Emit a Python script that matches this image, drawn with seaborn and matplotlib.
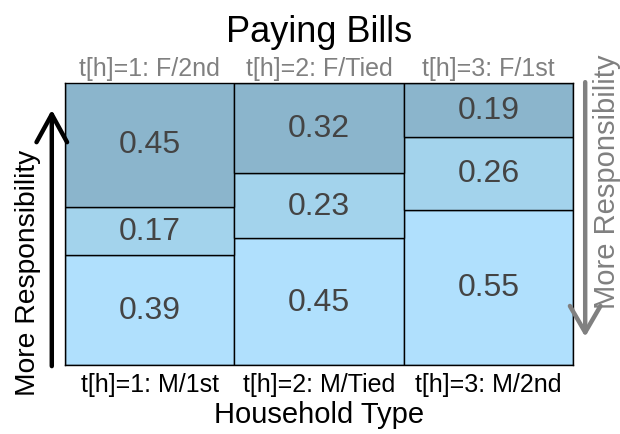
import numpy as np
import pandas as pd
import matplotlib
matplotlib.use('Agg')
import matplotlib.pyplot as plt
import seaborn as sns

# shares per household type, bottom to top
household = ['t[h]=1: M/1st', 't[h]=2: M/Tied', 't[h]=3: M/2nd']
top_labels = ['t[h]=1: F/2nd', 't[h]=2: F/Tied', 't[h]=3: F/1st']
male_more = [0.39, 0.45, 0.55]
shared = [0.17, 0.23, 0.26]
female_more = [0.45, 0.32, 0.19]

colors = ['#b0e0fd', '#a3d3ec', '#8bb5cc']

sns.set_theme(style='white')
plt.rcParams['font.family'] = ['Liberation Sans', 'DejaVu Sans']

df = pd.DataFrame({
    'household': household,
    'male': male_more,
    'shared': shared,
    'female': female_more,
})

fig = plt.figure(figsize=(6.2, 4.35), dpi=100)
ax = fig.add_axes([65 / 620, 1 - 366 / 435, 508 / 620, 282 / 435])

bottom = np.zeros(len(df))
for col, color in zip(['male', 'shared', 'female'], colors):
    sns.barplot(
        data=df, x='household', y=col, color=color, width=1.0,
        bottom=bottom, edgecolor='black', linewidth=1.0,
        saturation=1, ax=ax
    )
    for i, (b, v) in enumerate(zip(bottom, df[col])):
        ax.text(i, b + v / 2, f'{v:.2f}', ha='center', va='center',
                fontsize=23, color='#444444')
    bottom = bottom + df[col].values

ax.set_xlim(-0.5, 2.5)
ax.set_ylim(0, 1)
ax.set_yticks([])
ax.set_ylabel('')
ax.set_xlabel('Household Type', fontsize=21, color='black', labelpad=3)
ax.tick_params(axis='x', length=0, labelsize=18, labelcolor='black', pad=5)
for s in ax.spines.values():
    s.set_visible(True)
    s.set_color('black')
    s.set_linewidth(1.0)

sec = ax.secondary_xaxis('top')
sec.set_xticks(range(3))
sec.set_xticklabels(top_labels)
sec.tick_params(length=0, labelsize=18, labelcolor='#808080', pad=2)
sec.spines['top'].set_visible(False)

ax.set_title('Paying Bills', fontsize=26, color='black', pad=30)

# responsibility arrows
ax.annotate('', xy=(-0.026, 0.905), xytext=(-0.026, -0.004),
            xycoords='axes fraction', annotation_clip=False,
            arrowprops=dict(arrowstyle='->,head_length=1.0,head_width=0.55',
                            lw=3.2, color='black', mutation_scale=20,
                            shrinkA=0, shrinkB=0))
ax.text(-0.072, 0.33, 'More Responsibility', rotation=90, transform=ax.transAxes,
        ha='center', va='center', fontsize=20.3, color='black')

ax.annotate('', xy=(1.024, 0.1), xytext=(1.024, 1.003),
            xycoords='axes fraction', annotation_clip=False,
            arrowprops=dict(arrowstyle='->,head_length=0.95,head_width=0.55',
                            lw=3.2, color='#808080', mutation_scale=20,
                            shrinkA=0, shrinkB=0))
ax.text(1.066, 0.655, 'More Responsibility', rotation=90, transform=ax.transAxes,
        ha='center', va='center', fontsize=21, color='#808080')

fig.savefig('out.png', dpi=100)
